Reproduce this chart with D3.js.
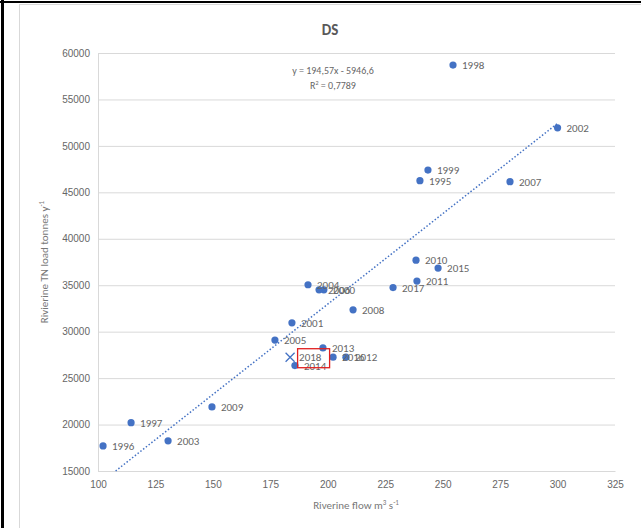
<!DOCTYPE html>
<html>
<head>
<meta charset="utf-8">
<script src="https://cdn.jsdelivr.net/npm/d3@7"></script>
<style>
  body { margin: 0; background: #fff; }
  svg { display: block; font-family: Carlito, Calibri, "Liberation Sans Narrow", "Open Sans", sans-serif; }
</style>
</head>
<body>
<svg id="chart"></svg>
<script>
// values
const years = [1995, 1996, 1997, 1998, 1999, 2000, 2001, 2002, 2003, 2004, 2005, 2006,
               2007, 2008, 2009, 2010, 2011, 2012, 2013, 2014, 2015, 2016, 2017, 2018];
const flow = [240.1, 102.2, 114.4, 254.5, 243.6, 198.3, 184.4, 300.0, 130.5, 191.4, 177.0, 196.2,
              279.3, 211.0, 149.6, 238.4, 238.8, 207.9, 197.9, 185.7, 248.0, 202.3, 228.4, 183.6];
const load = [46250, 17700, 20200, 58700, 47400, 34500, 30950, 51950, 18250, 35050, 29100, 34500,
              46150, 32350, 21900, 37700, 35450, 27250, 28250, 26350, 36850, 27250, 34750, 27250];
const marker = years.map(y => y === 2018 ? "x" : "dot");

const xTicks = [100, 125, 150, 175, 200, 225, 250, 275, 300, 325];
const yTicks = [15000, 20000, 25000, 30000, 35000, 40000, 45000, 50000, 55000, 60000];
const slope = 194.57, intercept = -5946.6; // trendline as printed on the chart

const width = 641, height = 528;
const marginLeft = 98, marginRight = 26, marginTop = 53, marginBottom = 57;
const grey = "#666666", blue = "#4472C4";

const svg = d3.select("#chart")
    .attr("width", width)
    .attr("height", height)
    .attr("viewBox", [0, 0, width, height]);

// frame round the picture
svg.append("rect").attr("x", 19.5).attr("y", 4.5).attr("width", 640).attr("height", 540)
    .attr("fill", "none").attr("stroke", "#d9d9d9");
svg.append("line").attr("x1", 0).attr("x2", width).attr("y1", 2).attr("y2", 2)
    .attr("stroke", "#000").attr("stroke-width", 2);
svg.append("line").attr("x1", 2.5).attr("x2", 2.5).attr("y1", 0).attr("y2", height)
    .attr("stroke", "#000").attr("stroke-width", 3);

const x = d3.scaleLinear().domain([100, 325]).range([marginLeft, width - marginRight]);
const y = d3.scaleLinear().domain([15000, 60000]).range([height - marginBottom, marginTop]);

// gridlines + y labels
svg.append("g")
    .attr("transform", `translate(${marginLeft},0)`)
    .call(d3.axisLeft(y).tickValues(yTicks).tickSize(0).tickPadding(8).tickFormat(d3.format("d")))
    .call(g => g.select(".domain").attr("stroke", "#d9d9d9"))
    .call(g => g.selectAll(".tick text").attr("fill", grey).attr("font-size", 10))
    .call(g => g.selectAll(".tick line").clone()
        .attr("x2", width - marginLeft - marginRight)
        .attr("stroke", "#d9d9d9"));

svg.append("g")
    .attr("transform", `translate(0,${height - marginBottom})`)
    .call(d3.axisBottom(x).tickValues(xTicks).tickSize(0).tickPadding(10))
    .call(g => g.select(".domain").attr("stroke", "#d9d9d9"))
    .call(g => g.selectAll(".tick text").attr("fill", grey).attr("font-size", 10));

// title
svg.append("text").attr("x", 330).attr("y", 35).attr("text-anchor", "middle")
    .attr("font-size", 15).attr("font-weight", "bold").attr("fill", "#595959").text("DS");

// axis titles
const xt = svg.append("text").attr("x", 356).attr("y", 509).attr("text-anchor", "middle")
    .attr("font-size", 11).attr("font-weight", "normal").attr("fill", "#777");
xt.append("tspan").text("Riverine flow m");
xt.append("tspan").attr("font-size", 7).attr("dy", -4).text("3");
xt.append("tspan").attr("dy", 4).text(" s");
xt.append("tspan").attr("font-size", 7).attr("dy", -4).text("-1");

const yt = svg.append("text").attr("transform", "translate(48,262) rotate(-90)")
    .attr("text-anchor", "middle").attr("font-size", 11).attr("fill", "#777");
yt.append("tspan").text("Rivierine TN load tonnes y");
yt.append("tspan").attr("font-size", 7).attr("dy", -4).text("-1");

// trendline, clipped at the bottom of the axis
const xStart = (15000 - intercept) / slope;
const xEnd = d3.max(flow);
svg.append("line")
    .attr("x1", x(xStart)).attr("y1", y(slope * xStart + intercept))
    .attr("x2", x(xEnd)).attr("y2", y(slope * xEnd + intercept))
    .attr("stroke", blue).attr("stroke-width", 1.5).attr("stroke-dasharray", "1.5,2");

// equation
svg.append("text").attr("x", 333).attr("y", 74).attr("text-anchor", "middle")
    .attr("font-size", 10).attr("fill", grey).text("y = 194,57x - 5946,6");
const r2 = svg.append("text").attr("x", 333).attr("y", 89).attr("text-anchor", "middle")
    .attr("font-size", 10).attr("fill", grey);
r2.append("tspan").text("R");
r2.append("tspan").attr("font-size", 6).attr("dy", -4).text("2");
r2.append("tspan").attr("dy", 4).text(" = 0,7789");

const idx = d3.range(years.length);

// points
svg.append("g").selectAll("circle")
    .data(idx.filter(i => marker[i] === "dot"))
    .join("circle")
    .attr("cx", i => x(flow[i])).attr("cy", i => y(load[i])).attr("r", 3.6)
    .attr("fill", blue);

svg.append("g").selectAll("path")
    .data(idx.filter(i => marker[i] === "x"))
    .join("path")
    .attr("transform", i => `translate(${x(flow[i])},${y(load[i])})`)
    .attr("d", "M-4.5,-4.5L4.5,4.5M-4.5,4.5L4.5,-4.5")
    .attr("stroke", blue).attr("stroke-width", 1.3).attr("fill", "none");

// labels (overlaps as in the original chart)
svg.append("g").selectAll("text")
    .data(idx)
    .join("text")
    .attr("x", i => x(flow[i]) + 9).attr("y", i => y(load[i]) + 4)
    .attr("font-size", 11).attr("fill", grey)
    .text(i => years[i]);

// red box round the 2018 label
const i18 = years.indexOf(2018);
svg.append("rect")
    .attr("x", x(flow[i18]) + 7.5).attr("y", y(load[i18]) - 8.5)
    .attr("width", 32).attr("height", 19)
    .attr("fill", "none").attr("stroke", "#e02020").attr("stroke-width", 1.3);
</script>
</body>
</html>
